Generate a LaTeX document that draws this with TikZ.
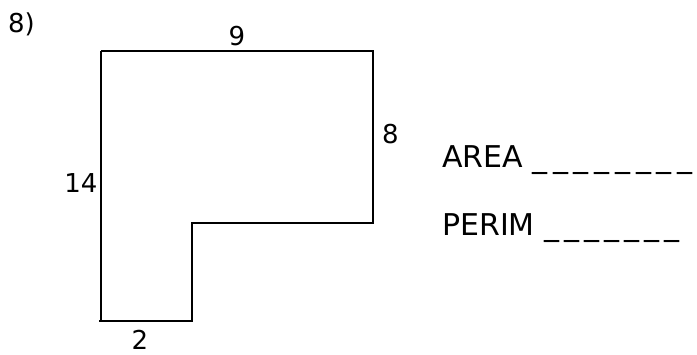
\documentclass[tikz,border=0pt]{standalone}
\usepackage{fontspec}
\setmainfont{DejaVu Sans}

\tikzset{
    side/.style={line width=2pt},
    len/.style={font=\fontsize{26}{30}\selectfont,inner sep=0pt},
    ask/.style={font=\fontsize{30}{34}\selectfont,inner sep=0pt,anchor=base west}
}

\begin{document}
\begin{tikzpicture}[x=1pt,y=-1pt]
\useasboundingbox (0,0) rectangle (697,354);

\node[len,anchor=base west] (num) at (8,32){8)};

% the L-shaped figure
\draw[side] (101,51)--(373,51)--(373,223)--(192,223)--(192,321)--(99,321);
\draw[side] (101,51)--(101,321);

\node[len,anchor=base] (top) at (237,45){9};
\node[len,anchor=base west] (rgt) at (382,143){8};
\node[len,anchor=base] (lft) at (81,192){14};
\node[len,anchor=base] (bot) at (140,349){2};

\node[ask] (area) at (442,167){AREA {\addfontfeature{LetterSpace=19}\_\_\_\_\_\_\_\_}};
\node[ask] (perim) at (442,235){PERIM {\addfontfeature{LetterSpace=17}\_\_\_\_\_\_\_}};

\end{tikzpicture}
\end{document}
